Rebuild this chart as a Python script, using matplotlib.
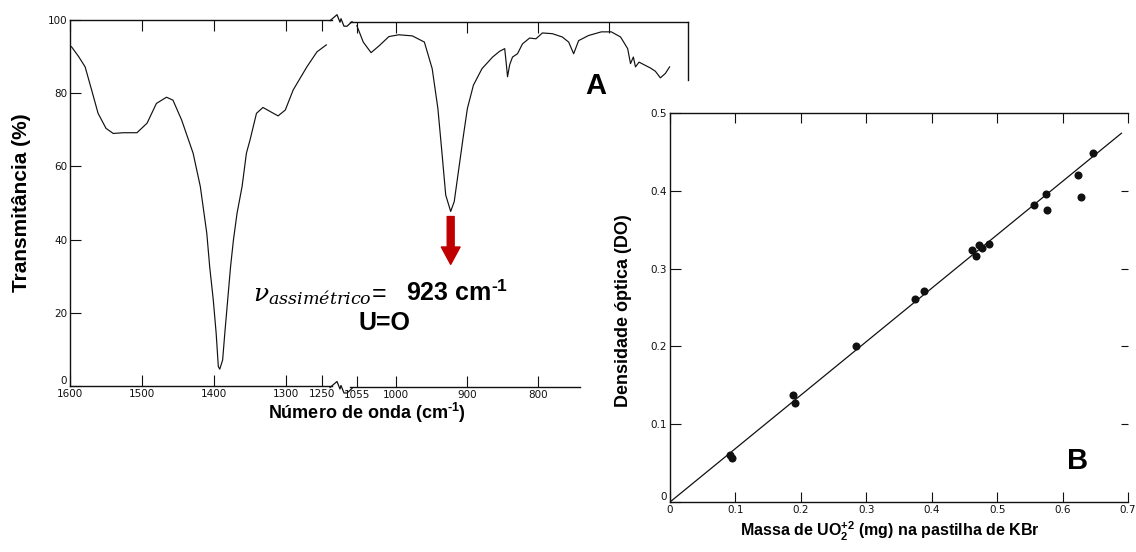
import numpy as np
import matplotlib
matplotlib.use("Agg")
import matplotlib.pyplot as plt
from matplotlib.lines import Line2D
from matplotlib.patches import FancyArrowPatch

plt.rcParams['font.family'] = ['Liberation Sans', 'DejaVu Sans']
plt.rcParams['mathtext.fontset'] = 'custom'
plt.rcParams['mathtext.rm'] = 'Liberation Sans'
plt.rcParams['mathtext.bf'] = 'Liberation Sans:bold'
plt.rcParams['mathtext.it'] = 'DejaVu Serif:italic'

# IR spectrum of the uranyl sample, high wavenumber side (before the axis break)
wn_high = [1598, 1588, 1579, 1570, 1561, 1550, 1540, 1526, 1507, 1493, 1480, 1466,
           1457, 1445, 1429, 1419, 1410, 1406, 1401, 1397, 1394, 1392, 1388, 1385,
           1381, 1377, 1373, 1368, 1361, 1355, 1350, 1341, 1332, 1322, 1311, 1301,
           1290, 1271, 1257, 1244]
t_high = [92.7, 90.0, 87.2, 80.9, 74.5, 70.4, 69.0, 69.2, 69.2, 71.8, 77.2, 78.9,
          78.1, 72.7, 63.6, 54.5, 41.7, 32.6, 23.5, 14.4, 5.3, 4.6, 7.1, 14.4,
          23.5, 32.6, 39.9, 47.2, 54.5, 63.6, 67.2, 74.5, 76.1, 75.0, 73.8, 75.4,
          80.9, 87.2, 91.3, 93.2]

# low wavenumber side (after the break), U=O asymmetric stretch at 923 cm-1
wn_low = [1055, 1046, 1035, 1023, 1010, 996, 977, 960, 949, 941, 935, 930, 923,
          918, 911.5, 905, 899.5, 891, 879, 864, 854, 847, 845, 843, 840, 836,
          829, 822, 812, 803, 794, 780, 766, 757, 750, 743, 729, 711, 697, 684,
          674, 670, 666, 663, 658, 651, 642, 635, 628, 621, 615]
t_low = [99.0, 94.5, 91.6, 93.6, 96.0, 96.5, 96.2, 94.5, 87.2, 76.3, 63.6, 52.6, 48.1,
         50.8, 59.9, 69.0, 76.3, 82.7, 87.2, 90.4, 92.0, 92.7, 89.0, 85.0, 88.3, 90.4,
         91.3, 94.0, 95.6, 95.4, 97.0, 96.8, 95.9, 94.5, 91.3, 94.9, 96.3, 97.3, 97.3, 95.9,
         92.7, 88.6, 90.4, 87.7, 89.0, 88.3, 87.4, 86.5, 84.7, 85.9, 87.7]
peak_wn = 923
peak_t = 48.1

# calibration: optical density vs mass of UO2(2+) in the KBr pellet
massa = [0.092, 0.094, 0.188, 0.191, 0.285, 0.375, 0.388, 0.462, 0.468, 0.472,
         0.477, 0.488, 0.556, 0.575, 0.576, 0.623, 0.628, 0.647]
do = [0.060, 0.057, 0.137, 0.127, 0.200, 0.261, 0.271, 0.324, 0.316, 0.330,
      0.327, 0.332, 0.382, 0.396, 0.375, 0.420, 0.392, 0.449]
fit_x = [0.0, 0.69]
fit_y = [0.0, 0.474]

ticks_high = [1600, 1500, 1400, 1300, 1250]
ticks_low = [1055, 1000, 900, 800, 700]
ticks_t = [0, 20, 40, 60, 80, 100]
ticks_m = [0, 0.1, 0.2, 0.3, 0.4, 0.5, 0.6, 0.7]
ticks_do = [0, 0.1, 0.2, 0.3, 0.4, 0.5]

W, H = 1136, 552
fig = plt.figure(figsize=(W / 100, H / 100), dpi=100)


def rect(x0, y0, x1, y1):
    return [x0 / W, 1 - y1 / H, (x1 - x0) / W, (y1 - y0) / H]


def fx(x):
    return x / W


def fy(y):
    return 1 - y / H


ink = '#111111'
hy = '\u2010'  # hyphen, so the exponent reads "-1" and not a long minus
tick_kw = dict(direction='in', length=8, width=0.8, colors=ink, labelsize=7.5,
               labelfontfamily='DejaVu Sans')

# --- panel A, left part
ax1 = fig.add_axes(rect(70, 20, 332, 386))
ax1.plot(wn_high, t_high, color=ink, lw=0.85)
ax1.set_xlim(1600, 1600 - 262 / 0.72)
ax1.set_ylim(0, 100)
ax1.set_xticks(ticks_high)
ax1.set_yticks(ticks_t)
ax1.tick_params(**tick_kw, top=True, pad=2)
ax1.get_yticklabels()[0].set_va('bottom')
ax1.spines['right'].set_visible(False)
for s in ['left', 'top', 'bottom']:
    ax1.spines[s].set_linewidth(1.0)
    ax1.spines[s].set_color(ink)

# --- panel A, right part
ax2 = fig.add_axes(rect(350, 22, 688, 387))
ax2.plot(wn_low, t_low, color=ink, lw=0.85)
ax2.set_xlim(1055 + 7 / 0.7255, 1055 - 338 / 0.7255)
ax2.set_ylim(0, 100)
ax2.set_xticks(ticks_low)
ax2.set_xticklabels([str(t) for t in ticks_low[:-1]] + [''])
ax2.tick_params(**tick_kw, top=True, pad=2)
ax2.tick_params(axis='y', left=False, labelleft=False)
ax2.xaxis.get_major_ticks()[-1].tick1line.set_visible(False)
ax2.spines['left'].set_visible(False)
ax2.spines['right'].set_bounds(84, 100)
ax2.spines['bottom'].set_bounds(ax2.get_xlim()[0], 741)
for s in ['right', 'top', 'bottom']:
    ax2.spines[s].set_linewidth(1.0)
    ax2.spines[s].set_color(ink)

# axis break marks
for yb in [20.7, 387.5]:
    zx = [330, 337, 340, 341, 344, 347, 352]
    zy = [0, -6, 1.5, -2, 5.5, 5.5, 1]
    fig.add_artist(Line2D([fx(x) for x in zx], [fy(yb + d) for d in zy],
                          color=ink, lw=0.9))

# arrow pointing at the U=O band
arrow = FancyArrowPatch((peak_wn, peak_t - 1.4), (peak_wn, peak_t - 14.5),
                        arrowstyle='simple,head_length=1.25,head_width=1.35,tail_width=0.5',
                        mutation_scale=10, color='#c00000', shrinkA=0, shrinkB=0)
ax2.add_patch(arrow)

fig.text(fx(253), fy(301), r'$\nu_{assimétrico}$=', fontsize=18, va='baseline', ha='left')
fig.text(fx(406), fy(301), r'923 cm$^{\mathbf{' + hy + r'1}}$', fontsize=18,
         fontweight='bold', va='baseline', ha='left')
fig.text(fx(384), fy(330), 'U=O', fontsize=18, fontweight='bold', va='baseline', ha='center')

fig.text(fx(22), fy(203), 'Transmitância (%)', rotation=90, fontsize=15,
         fontweight='bold', ha='center', va='center')
fig.text(fx(367), fy(413), r'Número de onda (cm$^{\mathbf{' + hy + r'1}}$)', fontsize=13,
         fontweight='bold', ha='center', va='center')
fig.text(fx(596), fy(86), 'A', fontsize=21, fontweight='bold', ha='center', va='center')

# --- panel B
ax3 = fig.add_axes(rect(670, 113, 1128, 502))
ax3.plot(fit_x, fit_y, color=ink, lw=0.9)
ax3.plot(massa, do, 'o', color=ink, ms=5.8, mec='none')
ax3.set_xlim(0, 0.7)
ax3.set_ylim(0, 0.5)
ax3.set_xticks(ticks_m)
ax3.set_yticks(ticks_do)
ax3.set_xticklabels(['0' if v == 0 else f'{v:.1f}' for v in ticks_m])
ax3.set_yticklabels(['0' if v == 0 else f'{v:.1f}' for v in ticks_do])
ax3.tick_params(**tick_kw, top=True, right=True, pad=2)
ax3.tick_params(axis='x', which='major', length=7)
ax3.get_yticklabels()[0].set_va('bottom')
for t, v in zip(ax3.yaxis.get_major_ticks(), ticks_do):
    t.tick2line.set_marker(0)
    t.tick2line.set_markersize(5)
    if v in (0, 0.5):
        t.tick2line.set_visible(False)
ax3.spines['right'].set_visible(False)
for s in ['left', 'top', 'bottom']:
    ax3.spines[s].set_linewidth(1.0)
    ax3.spines[s].set_color(ink)

fig.text(fx(623), fy(311), 'Densidade óptica (DO)', rotation=90, fontsize=13,
         fontweight='bold', ha='center', va='center')
fig.text(fx(890), fy(531), r'Massa de UO$_\mathbf{2}^\mathbf{+2}$ (mg) na pastilha de KBr',
         fontsize=11.5, fontweight='bold', ha='center', va='center')
fig.text(fx(1078), fy(461), 'B', fontsize=21, fontweight='bold', ha='center', va='center')

fig.savefig('out.png', dpi=100, facecolor='white')
